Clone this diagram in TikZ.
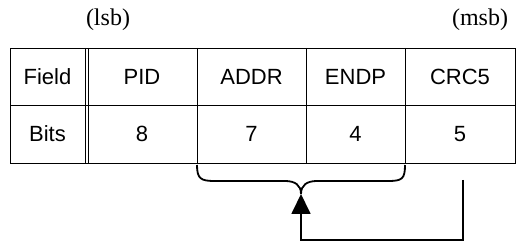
\documentclass[tikz,border=0pt]{standalone}
\usepackage{fontspec}
\setmainfont{Liberation Serif}
\newfontfamily\arialfont{Liberation Sans}
\usetikzlibrary{arrows.meta}
\begin{document}
\begin{tikzpicture}[x=1pt,y=-1pt,
  cell/.style={font=\arialfont\fontsize{22}{24}\selectfont, inner sep=0pt},
  endlabel/.style={font=\fontsize{24}{26}\selectfont, inner sep=0pt},
  grid/.style={line width=0.9pt},
  brace/.style={line width=1.8pt},
  feed/.style={line width=1.8pt, -{Triangle[width=19pt,length=20pt]}}]
\useasboundingbox (0,0) rectangle (522,248);
% table
\draw[grid] (10,48) rectangle (515,163);
\draw[grid] (10,105) -- (515,105);
\foreach \x in {85.5,88.5,197,306,405} \draw[grid] (\x,48) -- (\x,163);
% texts
\node[endlabel] (lsb) at (108,20) {(lsb)};
\node[endlabel] (msb) at (480,20) {(msb)};
\node[cell] (field) at (47.5,77) {Field};
\node[cell] (pid) at (142,77) {PID};
\node[cell] (addr) at (251.5,77) {ADDR};
\node[cell] (endp) at (355.5,77) {ENDP};
\node[cell] (crc) at (460,77) {CRC5};
\node[cell] (bits) at (47.5,134) {Bits};
\node[cell] (b8) at (142,134) {8};
\node[cell] (b7) at (251.5,134) {7};
\node[cell] (b4) at (355.5,134) {4};
\node[cell] (b5) at (460,134) {5};
% brace
\coordinate (bracetip) at (301,194);
\draw[brace] (197,165) .. controls (197,179) and (201,181) .. (215,181) -- (285,181)
  .. controls (295,181) and (301,185) .. (bracetip)
  .. controls (301,185) and (307,181) .. (317,181) -- (388,181)
  .. controls (402,181) and (405,179) .. (405,165);
% feedback arrow
\coordinate (crcb) at (463,180);
\coordinate (turn) at (301,240);
\draw[feed] (crcb) |- (turn) -- (bracetip);
\end{tikzpicture}
\end{document}
